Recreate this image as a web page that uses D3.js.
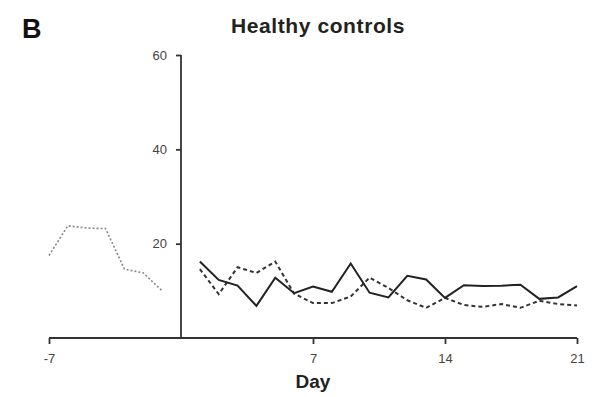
<!DOCTYPE html>
<html>
<head>
<meta charset="utf-8">
<script src="https://cdn.jsdelivr.net/npm/d3@7"></script>
<style>
  body { margin: 0; background: #fff; }
  svg { font-family: "Liberation Sans", Arial, sans-serif; }
  .axis path, .axis line { stroke: #333; stroke-width: 1.8; }
  .axis text { fill: #444; font-size: 13px; }
</style>
</head>
<body>
<svg id="chart" width="600" height="397"></svg>
<script>
// baseline (pre) days, dotted grey
var preDays = [-7, -6, -5, -4, -3, -2, -1];
var preVals = [17.5, 23.8, 23.3, 23.2, 14.6, 13.8, 10];

// study days
var days = d3.range(1, 22);
var solidVals = [16.2, 12.3, 11.1, 6.8, 12.8, 9.5, 10.9, 9.8, 15.8, 9.6, 8.6,
                 13.2, 12.4, 8.5, 11.2, 11.0, 11.1, 11.3, 8.3, 8.6, 11.0];
var dashedVals = [14.6, 9.3, 15.0, 13.8, 16.2, 9.4, 7.4, 7.4, 8.8, 12.8, 10.6,
                  8.0, 6.4, 8.5, 7.0, 6.6, 7.2, 6.4, 7.9, 7.2, 6.9];

var xTicks = [-7, 7, 14, 21];
var yTicks = [20, 40, 60];

var svg = d3.select("#chart");

var x = d3.scaleLinear().domain([-7, 21]).range([49, 577]);
var y = d3.scaleLinear().domain([0, 60]).range([338, 55]);

// axes
svg.append("g")
  .attr("class", "axis")
  .attr("transform", "translate(0," + y(0) + ")")
  .call(d3.axisBottom(x).tickValues(xTicks).tickFormat(String)
    .tickSize(6).tickSizeOuter(0).tickPadding(10))
  .call(function(g){ g.select(".domain").attr("d", "M" + x(-7) + ",0H" + x(21)); });

svg.append("g")
  .attr("class", "axis")
  .attr("transform", "translate(" + x(0) + ",0)")
  .call(d3.axisLeft(y).tickValues(yTicks).tickSize(5).tickSizeOuter(0).tickPadding(9))
  .call(function(g){ g.select(".domain").attr("d", "M0," + y(60) + "V" + y(0)); });

var line = d3.line()
  .x(function(d){ return x(d[0]); })
  .y(function(d){ return y(d[1]); });

svg.append("path")
  .datum(d3.zip(preDays, preVals))
  .attr("d", line)
  .attr("fill", "none")
  .attr("stroke", "#888")
  .attr("stroke-width", 1.6)
  .attr("stroke-dasharray", "2,2");

svg.append("path")
  .datum(d3.zip(days, dashedVals))
  .attr("d", line)
  .attr("fill", "none")
  .attr("stroke", "#333")
  .attr("stroke-width", 2)
  .attr("stroke-dasharray", "4,3");

svg.append("path")
  .datum(d3.zip(days, solidVals))
  .attr("d", line)
  .attr("fill", "none")
  .attr("stroke", "#222")
  .attr("stroke-width", 2);

// labels
svg.append("text")
  .attr("x", 22).attr("y", 38)
  .attr("font-size", 27).attr("font-weight", "bold").attr("fill", "#111")
  .text("B");

svg.append("text")
  .attr("x", 318).attr("y", 33)
  .attr("text-anchor", "middle")
  .attr("font-size", 21).attr("font-weight", "bold").attr("fill", "#222")
  .attr("letter-spacing", 0.6)
  .text("Healthy controls");

svg.append("text")
  .attr("x", x(7)).attr("y", 388)
  .attr("text-anchor", "middle")
  .attr("font-size", 19).attr("font-weight", "bold").attr("fill", "#222")
  .text("Day");
</script>
</body>
</html>
